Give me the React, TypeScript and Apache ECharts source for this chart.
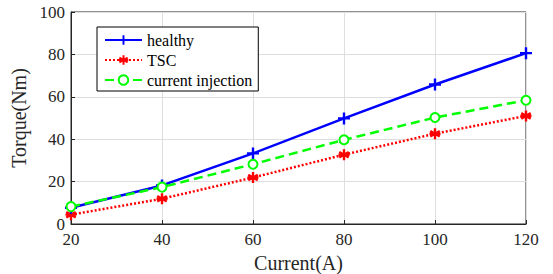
import React, { useEffect, useRef } from "react";
import * as echarts from "echarts";

const currents = [20, 40, 60, 80, 100, 120];
const healthy = [7.7, 18.2, 33.3, 49.8, 65.8, 80.6];
const tsc = [4.4, 11.9, 21.9, 32.7, 42.6, 51.0];
const injection = [8.2, 17.4, 28.2, 39.7, 50.2, 58.4];

const FONT = "'Liberation Serif', 'Times New Roman', serif";

export default function App() {
  const ref = useRef<HTMLDivElement>(null);
  useEffect(() => {
    const chart = echarts.init(ref.current!, undefined, { renderer: "svg" });
    const plus = "path://M4,0H6V4H10V6H6V10H4V6H0V4H4Z";
    const star = "path://M5,0L5,10M0.7,2.5L9.3,7.5M0.7,7.5L9.3,2.5M0,5L10,5";
    chart.setOption({
      animation: false,
      backgroundColor: "#fff",
      textStyle: { fontFamily: FONT },
      grid: {
        left: 71,
        right: 27,
        top: 12,
        bottom: 50,
        show: true,
        borderColor: "#262626",
        borderWidth: 1,
        containLabel: false,
        outerBoundsMode: "none",
      },
      legend: {
        orient: "vertical",
        left: 97,
        top: 27,
        itemWidth: 37,
        itemHeight: 12,
        itemGap: 4,
        padding: [5, 6, 3, 7],
        borderColor: "#000",
        borderWidth: 1,
        backgroundColor: "#fff",
        textStyle: { fontFamily: FONT, fontSize: 16, color: "#000" },
        data: ["healthy", "TSC", "current injection"],
      },
      xAxis: {
        type: "value",
        min: 20,
        max: 120,
        interval: 20,
        name: "Current(A)",
        nameLocation: "middle",
        nameGap: 29,
        nameTextStyle: { fontFamily: FONT, fontSize: 20, color: "#262626" },
        axisLine: { show: true, lineStyle: { color: "#262626" } },
        axisTick: { show: true, inside: true, length: 4, lineStyle: { color: "#262626" } },
        axisLabel: { fontFamily: FONT, fontSize: 17, color: "#262626", margin: 7 },
        splitLine: { show: true, lineStyle: { color: "#dedede" } },
      },
      yAxis: {
        type: "value",
        min: 0,
        max: 100,
        interval: 20,
        name: "Torque(Nm)",
        nameLocation: "middle",
        nameGap: 39,
        nameTextStyle: { fontFamily: FONT, fontSize: 20, color: "#262626" },
        axisLine: { show: true, lineStyle: { color: "#262626" } },
        axisTick: { show: true, inside: true, length: 4, lineStyle: { color: "#262626" } },
        axisLabel: { fontFamily: FONT, fontSize: 17, color: "#262626", margin: 6 },
        splitLine: { show: true, lineStyle: { color: "#dedede" } },
      },
      series: [
        {
          name: "healthy",
          type: "line",
          data: currents.map((c, i) => [c, healthy[i]]),
          symbol: plus,
          symbolSize: 12,
          lineStyle: { color: "#0000ff", width: 2.5, type: "solid" },
          itemStyle: { color: "#0000ff", borderWidth: 0 },
          z: 3,
        },
        {
          name: "TSC",
          type: "line",
          data: currents.map((c, i) => [c, tsc[i]]),
          symbol: star,
          symbolSize: 11,
          lineStyle: { color: "#ff0000", width: 2.5, type: [2, 2] },
          itemStyle: { color: "#ff0000", borderColor: "#ff0000", borderWidth: 2.4 },
          z: 2,
        },
        {
          name: "current injection",
          type: "line",
          data: currents.map((c, i) => [c, injection[i]]),
          symbol: "emptyCircle",
          symbolSize: 9,
          lineStyle: { color: "#00ff00", width: 2.5, type: [9, 5] },
          itemStyle: { color: "#00ff00", borderColor: "#00ff00", borderWidth: 2 },
          z: 4,
        },
      ],
    });
    return () => chart.dispose();
  }, []);
  return <div ref={ref} style={{ width: 553, height: 274, position: "absolute", left: 0, top: 0 }} />;
}
